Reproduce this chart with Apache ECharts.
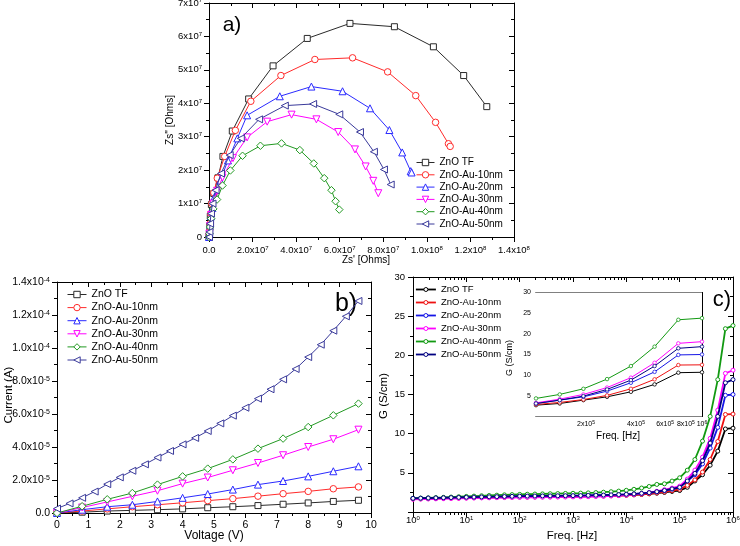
<!DOCTYPE html>
<html><head><meta charset="utf-8">
<script src="https://cdn.jsdelivr.net/npm/echarts@6/dist/echarts.min.js"></script>
<style>html,body{margin:0;padding:0;background:#fff;width:740px;height:546px;overflow:hidden}.p{position:absolute;left:0;top:0;width:740px;height:546px}</style>
</head><body>
<div id="ca" class="p"></div><div id="cb" class="p"></div><div id="cc" class="p"></div>
<script>
// ---------- shared ----------
const seriesNames = ['ZnO TF','ZnO-Au-10nm','ZnO-Au-20nm','ZnO-Au-30nm','ZnO-Au-40nm','ZnO-Au-50nm'];

// ---------- panel a: Nyquist plot, [Zs', Zs''] in units of 1e7 Ohms ----------
const nyq_TF = [[0,0],[0.02,0.1],[0.04,0.3],[0.06,0.62],[0.11,0.97],[0.22,1.30],[0.41,1.77],[0.64,2.41],[1.07,3.17],[1.82,4.13],[2.94,5.12],[4.51,5.94],[6.47,6.39],[8.51,6.29],[10.3,5.69],[11.69,4.83],[12.75,3.9]];
const nyq_10 = [[0,0],[0.02,0.15],[0.05,0.4],[0.08,0.7],[0.13,1.0],[0.22,1.32],[0.38,1.76],[0.72,2.41],[1.21,3.19],[1.92,4.06],[3.30,4.83],[4.86,5.31],[6.59,5.36],[8.2,4.94],[9.49,4.23],[10.4,3.43],[10.99,2.79],[11.07,2.71]];
const nyq_20 = [[0,0],[0.02,0.12],[0.05,0.38],[0.09,0.62],[0.16,0.87],[0.26,1.21],[0.52,1.69],[0.87,2.29],[1.3,2.95],[1.75,3.64],[3.25,4.21],[4.7,4.5],[6.13,4.36],[7.39,3.85],[8.28,3.2],[8.87,2.53],[9.26,1.97],[9.3,1.93]];
const nyq_30 = [[0,0],[0.02,0.1],[0.05,0.33],[0.1,0.66],[0.2,1.0],[0.37,1.38],[0.62,1.78],[1.1,2.36],[1.75,2.98],[2.67,3.45],[3.79,3.66],[4.93,3.52],[5.93,3.14],[6.7,2.62],[7.19,2.11],[7.54,1.68],[7.77,1.31]];
const nyq_40 = [[0,0],[0.02,0.1],[0.05,0.3],[0.1,0.55],[0.2,0.84],[0.37,1.12],[0.62,1.54],[0.98,1.99],[1.54,2.43],[2.36,2.73],[3.33,2.8],[4.17,2.6],[4.81,2.2],[5.29,1.76],[5.62,1.4],[5.81,1.07],[5.98,0.82]];
const nyq_50 = [[0,0],[0.02,0.15],[0.05,0.4],[0.09,0.7],[0.16,1.0],[0.3,1.4],[0.55,1.9],[0.95,2.45],[1.46,2.95],[2.3,3.52],[3.48,3.93],[4.78,3.98],[5.98,3.67],[6.93,3.14],[7.57,2.55],[8.03,2.02],[8.34,1.57]];
const NYQ_UNIT = 1e7;

// ---------- panel b: I-V, current in units of 1e-5 A ----------
const V_fine = [0,0.4,0.8,1.2,1.6,2.0,2.4,2.8,3.2,3.6,4.0,4.4,4.8,5.2,5.6,6.0,6.4,6.8,7.2,7.6,8.0,8.4,8.8,9.2,9.6];
const V_coarse = [0,0.8,1.6,2.4,3.2,4.0,4.8,5.6,6.4,7.2,8.0,8.8,9.6];
const I_TF = [0,0.05,0.12,0.16,0.2,0.25,0.32,0.38,0.45,0.53,0.61,0.7,0.77];
const I_10 = [0,0.12,0.25,0.38,0.5,0.62,0.75,0.87,1.02,1.17,1.31,1.47,1.58];
const I_20 = [0,0.2,0.38,0.5,0.7,0.92,1.15,1.42,1.72,1.94,2.22,2.53,2.83];
const I_30 = [0,0.33,0.67,1.01,1.35,1.78,2.15,2.59,3.03,3.5,4.0,4.47,5.05];
const I_40 = [0,0.41,0.83,1.21,1.72,2.22,2.69,3.25,3.9,4.51,5.21,5.92,6.63];
const I_50 = [0.27,0.58,0.92,1.3,1.75,2.16,2.56,2.95,3.36,3.76,4.16,4.55,4.97,5.43,5.9,6.38,6.93,7.5,8.1,8.73,9.45,10.2,11.05,11.92,12.85];
const I_UNIT = 1e-5;

// ---------- panel c: conductance vs frequency ----------
const freq = [1,1.39,1.93,2.68,3.73,5.18,7.2,10,13.9,19.3,26.8,37.3,51.8,72,100,139,193,268,373,518,720,1000,1390,1930,2680,3730,5180,7200,10000,13900,19300,26800,37300,51800,72000,100000,139000,193000,268000,373000,518000,720000,1000000];
const G_TF = [1.70,1.72,1.74,1.76,1.78,1.80,1.82,1.84,1.86,1.88,1.90,1.91,1.93,1.94,1.95,1.96,1.97,1.98,1.99,2.00,2.01,2.02,2.03,2.04,2.06,2.08,2.10,2.13,2.16,2.20,2.25,2.32,2.40,2.50,2.62,2.74,3.15,3.96,4.76,5.97,7.77,10.6,10.7];
const G_10 = [1.66,1.68,1.70,1.72,1.74,1.76,1.78,1.80,1.82,1.84,1.85,1.87,1.88,1.89,1.90,1.91,1.92,1.93,1.94,1.95,1.96,1.97,1.98,2.00,2.02,2.04,2.07,2.10,2.14,2.19,2.25,2.33,2.43,2.56,2.72,2.90,3.40,4.10,5.10,6.70,9.00,12.45,12.5];
const G_20 = [1.72,1.74,1.76,1.78,1.80,1.82,1.84,1.86,1.88,1.90,1.92,1.94,1.96,1.98,2.00,2.01,2.02,2.03,2.04,2.05,2.06,2.07,2.08,2.10,2.12,2.14,2.17,2.20,2.24,2.29,2.36,2.45,2.57,2.72,2.92,3.15,3.96,4.76,6.14,8.16,10.8,14.9,15.0];
const G_30 = [1.62,1.64,1.66,1.68,1.70,1.72,1.74,1.76,1.78,1.80,1.81,1.83,1.84,1.85,1.86,1.87,1.88,1.89,1.90,1.91,1.92,1.93,1.94,1.96,1.98,2.01,2.05,2.10,2.16,2.24,2.34,2.47,2.64,2.85,3.05,3.30,4.20,5.34,7.00,9.40,13.0,17.7,18.1];
const G_40 = [1.75,1.78,1.81,1.84,1.87,1.91,1.95,1.99,2.03,2.07,2.11,2.15,2.19,2.22,2.25,2.27,2.29,2.31,2.33,2.35,2.37,2.39,2.41,2.44,2.48,2.53,2.59,2.67,2.77,2.90,3.06,3.26,3.52,3.60,3.95,4.37,5.34,6.70,9.05,12.2,16.9,23.4,23.8];
const G_50 = [1.74,1.76,1.78,1.80,1.82,1.84,1.86,1.88,1.90,1.92,1.94,1.96,1.98,2.00,2.02,2.03,2.04,2.05,2.06,2.07,2.08,2.09,2.10,2.12,2.14,2.16,2.19,2.22,2.26,2.31,2.38,2.47,2.59,2.75,2.95,3.15,3.96,4.93,6.55,8.80,12.2,16.5,16.9];
const INSET_START = 35; // first frequency index shown in the inset (1e5 Hz)

// tick label lists
const c_xDecades = [1,10,100,1000,1e4,1e5,1e6];
const inset_xLabels = [2e5,4e5,6e5,8e5,1e6];

// ---------- style helpers ----------
const FONT = "'Liberation Sans', Arial, sans-serif";
const BLK = '#000';
function rich(fs) {
  const ss = Math.round(fs*0.68);
  return { n: {fontSize: fs, fontFamily: FONT, color: BLK, lineHeight: fs + 1},
           s: {fontSize: ss, fontFamily: FONT, color: BLK, verticalAlign: 'top', lineHeight: ss}};
}
function sci(v, dec, zeroTxt) {
  if (Math.abs(v) < 1e-20) return '{n|' + zeroTxt + '}';
  const e = Math.floor(Math.log10(Math.abs(v)) + 1e-9);
  const m = v / Math.pow(10, e);
  return '{n|' + m.toFixed(dec) + 'x10}{s|' + e + '}';
}
function linAxis(o) {
  return {
    type: 'value', gridIndex: o.grid, position: o.pos, min: o.min, max: o.max, interval: o.interval,
    axisLine: {show: true, onZero: false, lineStyle: {color: BLK, width: 1}},
    axisTick: {show: true, inside: !!o.inside, length: o.tickLen || 5, lineStyle: {color: BLK, width: 1}},
    minorTick: {show: true, splitNumber: 2, length: o.minorLen || 3, lineStyle: {color: BLK, width: 1}},
    axisLabel: o.label ? {show: true, formatter: o.fmt, margin: o.margin, color: BLK, fontSize: o.fs, fontFamily: FONT, rich: rich(o.fs), showMinLabel: true, showMaxLabel: true} : {show: false},
    splitLine: {show: false}, minorSplitLine: {show: false}, axisPointer: {show: false}, silent: true
  };
}
function logAxis(o) {
  return {
    type: 'log', logBase: 10, gridIndex: o.grid, position: o.pos, min: o.min, max: o.max,
    axisLine: {show: o.line !== false, onZero: false, lineStyle: {color: BLK, width: 1}},
    axisTick: {show: true, inside: !!o.inside, length: o.tickLen, customValues: o.ticks, lineStyle: {color: BLK, width: 1}},
    minorTick: {show: false},
    axisLabel: o.label ? {show: true, customValues: o.labels, formatter: o.fmt, margin: o.margin, color: BLK, fontSize: o.fs, fontFamily: FONT, rich: rich(o.fs)} : {show: false},
    splitLine: {show: false}, minorSplitLine: {show: false}, axisPointer: {show: false}, silent: true
  };
}
function txt(t, x, y, fs, rot) {
  return {type: 'text', x: x, y: y, rotation: rot ? Math.PI/2 : 0, silent: true,
    style: {text: t, fontSize: fs, fontFamily: FONT, fill: BLK, align: 'center', verticalAlign: 'middle', textAlign: 'center', textVerticalAlign: 'middle'}};
}
function legend(left, top, iw, ih, gap, fs, lw) {
  return {show: true, orient: 'vertical', left: left, top: top, padding: 0, itemWidth: iw, itemHeight: ih, itemGap: gap,
    data: seriesNames, selectedMode: false, textStyle: {fontSize: fs, fontFamily: FONT, color: BLK},
    itemStyle: {borderWidth: 1}, lineStyle: {width: lw}};
}
const symA = [{s:'rect',z:6,r:0},{s:'circle',z:6.5,r:0},{s:'triangle',z:7,r:0},{s:'triangle',z:7,r:180},{s:'diamond',z:7.5,r:0},{s:'triangle',z:7,r:90}];
const colAB = ['#2a2a2a','#ff2a2a','#2a2aff','#ff00ff','#229922','#3a3a9a'];
const colC = ['#000000','#ee1111','#1515e6','#ff00ff','#119911','#000080'];
function markerSeries(i, data) {
  return {type: 'line', name: seriesNames[i], xAxisIndex: 0, yAxisIndex: 0, data: data,
    symbol: symA[i].s, symbolSize: symA[i].z, symbolRotate: symA[i].r, showSymbol: true, showAllSymbol: true,
    lineStyle: {color: colAB[i], width: 1}, itemStyle: {color: '#fff', borderColor: colAB[i], borderWidth: 1},
    emphasis: {disabled: true}, silent: true, animation: false, z: 2 + i};
}

// ---------- chart a ----------
const chA = echarts.init(document.getElementById('ca'), null, {renderer: 'canvas'});
const nyqAll = [nyq_TF, nyq_10, nyq_20, nyq_30, nyq_40, nyq_50];
chA.setOption({
  animation: false, backgroundColor: 'transparent', textStyle: {fontFamily: FONT},
  grid: [{left: 209, top: 3, width: 305, height: 234, containLabel: false, outerBoundsMode: 'none'}],
  xAxis: [
    linAxis({grid: 0, pos: 'bottom', min: 0, max: 1.4e8, interval: 2e7, label: true, fs: 9.5, margin: 8, fmt: v => sci(v, 1, '0.0')}),
    linAxis({grid: 0, pos: 'top', min: 0, max: 1.4e8, interval: 2e7, inside: true})
  ],
  yAxis: [
    linAxis({grid: 0, pos: 'left', min: 0, max: 7e7, interval: 1e7, label: true, fs: 9.5, margin: 7, fmt: v => sci(v, 0, '0')}),
    linAxis({grid: 0, pos: 'right', min: 0, max: 7e7, interval: 1e7, inside: true})
  ],
  legend: [legend(416, 157.5, 18, 8, 2.3, 10, 1)],
  graphic: [txt("Zs'' [Ohms]", 170, 120, 10, true), txt("Zs' [Ohms]", 366, 260, 10, false), txt('a)', 232, 25, 21, false)],
  series: nyqAll.map((d, i) => markerSeries(i, d.map(p => [p[0]*NYQ_UNIT, p[1]*NYQ_UNIT])))
});

// ---------- chart b ----------
const chB = echarts.init(document.getElementById('cb'), null, {renderer: 'canvas'});
const ivAll = [I_TF, I_10, I_20, I_30, I_40];
const seriesB = ivAll.map((arr, i) => markerSeries(i, V_coarse.map((v, k) => [v, arr[k]*I_UNIT])));
seriesB.push(markerSeries(5, V_fine.map((v, k) => [v, I_50[k]*I_UNIT])));
chB.setOption({
  animation: false, backgroundColor: 'transparent', textStyle: {fontFamily: FONT},
  grid: [{left: 57, top: 282, width: 314, height: 231, containLabel: false, outerBoundsMode: 'none'}],
  xAxis: [
    linAxis({grid: 0, pos: 'bottom', min: 0, max: 10, interval: 1, label: true, fs: 10.5, margin: 6, fmt: v => '{n|' + v + '}'}),
    linAxis({grid: 0, pos: 'top', min: 0, max: 10, interval: 1, inside: true})
  ],
  yAxis: [
    linAxis({grid: 0, pos: 'left', min: 0, max: 1.4e-4, interval: 2e-5, label: true, fs: 10.5, margin: 7, fmt: v => sci(v, 1, '0.0')}),
    linAxis({grid: 0, pos: 'right', min: 0, max: 1.4e-4, interval: 2e-5, inside: true})
  ],
  legend: [legend(67, 289, 19, 8, 2.1, 10.5, 1)],
  graphic: [txt('Current (A)', 9, 395, 11.5, true), txt('Voltage (V)', 214, 536, 12, false), txt('b)', 346, 304, 25, false)],
  series: seriesB
});

// ---------- chart c (main + inset) ----------
const chC = echarts.init(document.getElementById('cc'), null, {renderer: 'canvas'});
const minorMain = [];
for (let e = 0; e < 6; e++) for (let m = 2; m <= 9; m++) minorMain.push(m * Math.pow(10, e));
const minorInset = [];
for (let f = 120000; f < 1000000; f += 20000) if (f % 200000 !== 0) minorInset.push(f);
const decFmt = v => '{n|10}{s|' + Math.round(Math.log10(v)) + '}';
const insFmt = v => (v >= 1e6 ? '{n|10}{s|6}' : '{n|' + Math.round(v/1e5) + 'x10}{s|5}');
const GAll = [G_TF, G_10, G_20, G_30, G_40, G_50];
const seriesC = [];
GAll.forEach((g, i) => {
  seriesC.push({type: 'line', name: seriesNames[i], xAxisIndex: 0, yAxisIndex: 0,
    data: freq.map((f, k) => [f, g[k]]), symbol: 'circle', symbolSize: 4, showSymbol: true, showAllSymbol: true,
    lineStyle: {color: colC[i], width: 1.8}, itemStyle: {color: '#fff', borderColor: colC[i], borderWidth: 1},
    emphasis: {disabled: true}, silent: true, z: 2 + i});
});
GAll.forEach((g, i) => {
  seriesC.push({type: 'line', name: seriesNames[i], xAxisIndex: 4, yAxisIndex: 2,
    data: freq.slice(INSET_START).map((f, k) => [f, g[k + INSET_START]]), symbol: 'circle', symbolSize: 3.5, showSymbol: true,
    lineStyle: {color: colC[i], width: 1}, itemStyle: {color: '#fff', borderColor: colC[i], borderWidth: 0.8},
    emphasis: {disabled: true}, silent: true, z: 10 + i});
});
chC.setOption({
  animation: false, backgroundColor: 'transparent', textStyle: {fontFamily: FONT},
  grid: [
    {left: 413, top: 277, width: 320, height: 235, containLabel: false, outerBoundsMode: 'none'},
    {left: 536, top: 292.5, width: 166, height: 124, containLabel: false, outerBoundsMode: 'none', show: true, backgroundColor: '#fff', borderWidth: 0, z: 5}
  ],
  xAxis: [
    logAxis({grid: 0, pos: 'bottom', min: 1, max: 1e6, ticks: c_xDecades, tickLen: 5, label: true, labels: c_xDecades, fmt: decFmt, fs: 9.5, margin: 3}),
    logAxis({grid: 0, pos: 'bottom', min: 1, max: 1e6, ticks: minorMain, tickLen: 3, line: false}),
    logAxis({grid: 0, pos: 'top', min: 1, max: 1e6, ticks: c_xDecades, tickLen: 5, inside: true}),
    logAxis({grid: 0, pos: 'top', min: 1, max: 1e6, ticks: minorMain, tickLen: 3, inside: true, line: false}),
    logAxis({grid: 1, pos: 'bottom', min: 1e5, max: 1e6, ticks: inset_xLabels, tickLen: 4, inside: true, label: true, labels: inset_xLabels, fmt: insFmt, fs: 7, margin: 4}),
    logAxis({grid: 1, pos: 'bottom', min: 1e5, max: 1e6, ticks: minorInset, tickLen: 2, inside: true, line: false}),
    logAxis({grid: 1, pos: 'top', min: 1e5, max: 1e6, ticks: inset_xLabels, tickLen: 4, inside: true}),
    logAxis({grid: 1, pos: 'top', min: 1e5, max: 1e6, ticks: minorInset, tickLen: 2, inside: true, line: false})
  ],
  yAxis: [
    linAxis({grid: 0, pos: 'left', min: 0, max: 30, interval: 5, label: true, fs: 9.5, margin: 8, fmt: v => (v === 0 ? '' : '{n|' + v + '}')}),
    linAxis({grid: 0, pos: 'right', min: 0, max: 30, interval: 5, inside: true}),
    linAxis({grid: 1, pos: 'left', min: 0, max: 30, interval: 5, label: true, fs: 7, margin: 5, inside: true, tickLen: 3, minorLen: 2, fmt: v => (v === 0 ? '' : '{n|' + v + '}')}),
    linAxis({grid: 1, pos: 'right', min: 0, max: 30, interval: 5, inside: true, tickLen: 3, minorLen: 2})
  ],
  legend: [legend(415, 284.5, 20, 5, 3, 9.5, 1.8)],
  graphic: [txt('G (S/cm)', 384, 396, 11.5, true), txt('Freq. [Hz]', 572, 536, 11.5, false),
            txt('G (S/cm)', 510, 358, 9, true), txt('Freq. [Hz]', 618, 436, 10, false), txt('c)', 722, 300, 22, false)],
  series: seriesC
});
</script>
</body></html>
